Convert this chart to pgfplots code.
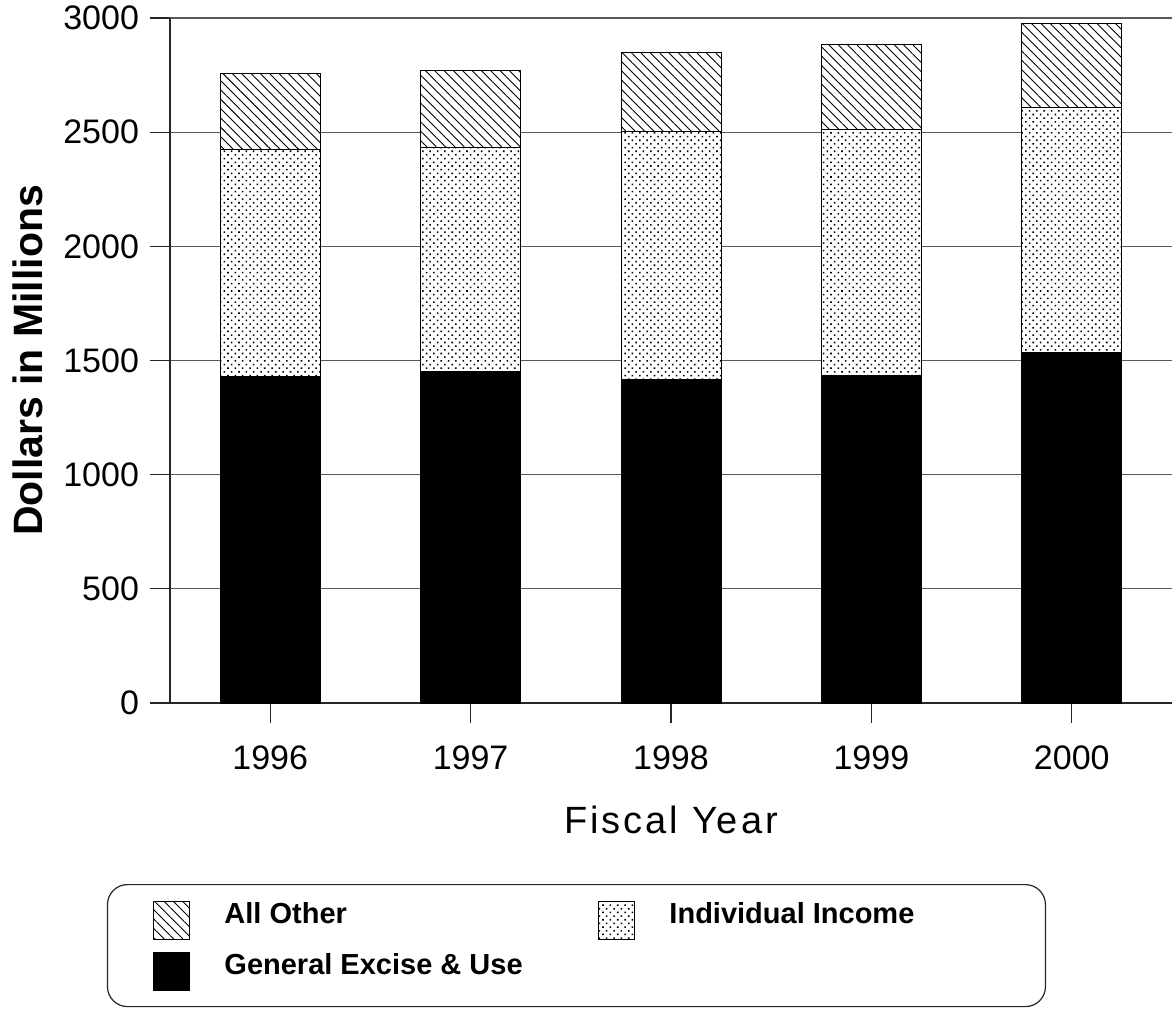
\documentclass[border=0pt]{standalone}
\usepackage{fontspec}
\setmainfont{Liberation Sans}
\usepackage{pgfplots}
\usepackage{pgfplotstable}
\pgfplotsset{compat=1.18}
\usetikzlibrary{patterns.meta}

% Tax revenue by fiscal year, dollars in millions
\pgfplotstableread{
x excise income other
0 1428 998  333
1 1454 977  341
2 1419 1086 346
3 1436 1074 372
4 1537 1069 372
}\revenue

\begin{document}
\begin{tikzpicture}
\path[use as bounding box] (0,0) rectangle (586pt,-504pt);
\begin{axis}[
  at={(85pt,-351.5pt)}, anchor=south west,
  scale only axis, width=501pt, height=342.5pt,
  xmin=-0.5, xmax=4.5, ymin=0, ymax=3000,
  enlargelimits=false,
  ybar stacked, bar width=50pt,
  axis x line=bottom, axis y line=left,
  axis line style={-, line width=0.6pt, black!85},
  xtick={0,1,2,3,4},
  xticklabels={1996,1997,1998,1999,2000},
  ytick={0,500,1000,1500,2000,2500,3000},
  tick align=outside, major tick length=10pt,
  tick style={line width=0.6pt, black!85},
  ymajorgrids, grid style={line width=0.6pt, black!65},
  /pgf/number format/1000 sep={},
  /pgf/number format/assume math mode=true,
  ticklabel style={font=\fontsize{17}{20}\selectfont},
  xticklabel style={yshift=-8pt},
  yticklabel style={xshift=-2pt},
  xlabel={Fiscal Year},
  xlabel style={at={(axis description cs:0.5,-0.190)}, anchor=base, inner sep=0pt,
    font=\addfontfeature{LetterSpace=8}\fontsize{19}{22}\selectfont},
  ylabel={Dollars in Millions},
  ylabel style={at={(axis description cs:-0.142,0.5)}, anchor=center,
    font=\bfseries\fontsize{20.5}{24}\selectfont},
  reverse legend, legend columns=2,
  legend style={
    at={(axis description cs:-0.063,-0.2642)}, anchor=north west,
    draw=black!85, line width=0.6pt, rounded corners=10pt,
    inner xsep=23pt, inner ysep=8pt,
    column sep=17pt, row sep=6pt,
    nodes={inner sep=0pt, text depth=0pt, font=\bfseries\fontsize{14.5}{17}\selectfont},
    cells={anchor=base west},
  },
  legend image code/.code={\draw[#1, sharp corners, line width=0.5pt] (0pt,-8pt) rectangle (18pt,11pt);},
]
\addplot[draw=black, line width=0.5pt, fill=black]
  table[x=x, y=excise] {\revenue};
\addlegendentry{\makebox[170pt][l]{General Excise \& Use}}
\addplot[draw=black, line width=0.5pt, fill=white,
  postaction={pattern={Dots[angle=45, distance=2.6pt, radius=0.55pt]}}]
  table[x=x, y=income] {\revenue};
\addlegendentry{\makebox[165pt][l]{Individual Income}}
\addplot[draw=black, line width=0.5pt, fill=white,
  postaction={pattern={Lines[angle=-45, distance=3.3pt, line width=0.45pt]}}]
  table[x=x, y=other] {\revenue};
\addlegendentry{\makebox[170pt][l]{All Other}}
\end{axis}
\end{tikzpicture}
\end{document}
